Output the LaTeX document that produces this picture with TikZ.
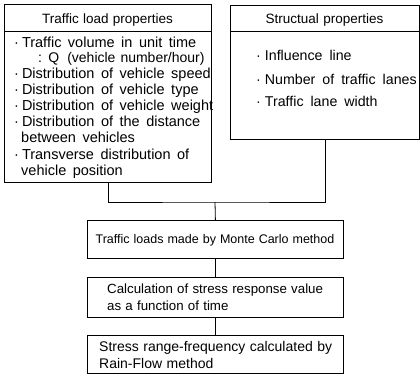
\documentclass[tikz,border=0pt]{standalone}
\usepackage{fontspec}
\setmainfont{Liberation Sans}
\newcommand\setsp[1]{\spaceskip=#1 plus 1pt minus 1pt\relax}
\begin{document}
\begin{tikzpicture}[x=1pt,y=-1pt,
  box/.style={draw, line width=0.8pt, inner sep=0pt, anchor=north west},
  txt/.style={anchor=base west, inner sep=0pt, font=\fontsize{14.5}{16}\selectfont\setsp{6.5pt}},
  rtxt/.style={anchor=base west, inner sep=0pt, font=\fontsize{14.2}{16}\selectfont\setsp{7pt}},
  btxt/.style={anchor=base west, inner sep=0pt, font=\fontsize{14}{16}\selectfont\setsp{4.5pt}},
  ttl/.style={anchor=base, inner sep=0pt, font=\fontsize{13.5}{16}\selectfont\setsp{4.3pt}},
  ln/.style={line width=0.8pt}]
\useasboundingbox (0,0) rectangle (420,375);
% boxes
\node[box, minimum width=207, minimum height=178] (lb) at (4,4) {};
\node[box, minimum width=189, minimum height=134] (rb) at (230,5) {};
\node[box, minimum width=256, minimum height=38] (mc) at (87,220) {};
\node[box, minimum width=256, minimum height=40] (cs) at (87,277) {};
\node[box, minimum width=256, minimum height=38] (rf) at (87,335) {};
% header separators
\draw[ln] ([yshift=-27pt]lb.north west) -- ([yshift=-27pt]lb.north east);
\draw[ln] ([yshift=-26pt]rb.north west) -- ([yshift=-26pt]rb.north east);
% titles
\node[ttl] (t1) at (107.5,23) {Traffic load properties};
\node[ttl] (t2) at (324.5,23) {Structual properties};
% left items
\node[txt] (l1) at (14,47) {·\hspace{3pt}Traffic volume in unit time};
\node[txt, font=\fontsize{14}{16}\selectfont\setsp{5pt}] (l2) at (38,62.5) {: Q\hspace{8pt}(vehicle number/hour)};
\node[txt] (l3) at (14,78.5) {·\hspace{3pt}Distribution of vehicle speed};
\node[txt] (l4) at (14,94.5) {·\hspace{3pt}Distribution of vehicle type};
\node[txt] (l5) at (14,110.5) {·\hspace{3pt}Distribution of vehicle weight};
\node[txt] (l6) at (14,126.5) {·\hspace{3pt}Distribution of the distance};
\node[txt] (l7) at (21,142) {between vehicles};
\node[txt] (l8) at (14,159) {·\hspace{3pt}Transverse distribution of};
\node[txt] (l9) at (21,175) {vehicle position};
% right items
\node[rtxt] (r1) at (256,60.5) {·\hspace{4pt}Influence line};
\node[rtxt] (r2) at (256,84.5) {·\hspace{4pt}Number of traffic lanes};
\node[rtxt] (r3) at (256,106.5) {·\hspace{4pt}Traffic lane width};
% lower texts
\node[ttl, font=\fontsize{12.5}{15}\selectfont\setsp{4pt}] (m1) at (215,243.5) {Traffic loads made by Monte Carlo method};
\node[btxt, font=\fontsize{13.3}{16}\selectfont\setsp{4.25pt}] (c1) at (107,293.5) {Calculation of stress response value};
\node[btxt, font=\fontsize{13.3}{16}\selectfont\setsp{4.25pt}] (c2) at (107,310.5) {as a function of time};
\node[btxt] (f1) at (99,351) {Stress range-frequency calculated by};
\node[btxt] (f2) at (99,368) {Rain-Flow method};
% connectors
\coordinate (j) at (215,202);
\draw[ln] (lb.south) |- (j) -| (rb.south);
\draw[ln] (j) -- (mc.north);
\draw[ln] (mc.south) -- (cs.north);
\draw[ln] (cs.south) -- (rf.north);
\end{tikzpicture}
\end{document}
